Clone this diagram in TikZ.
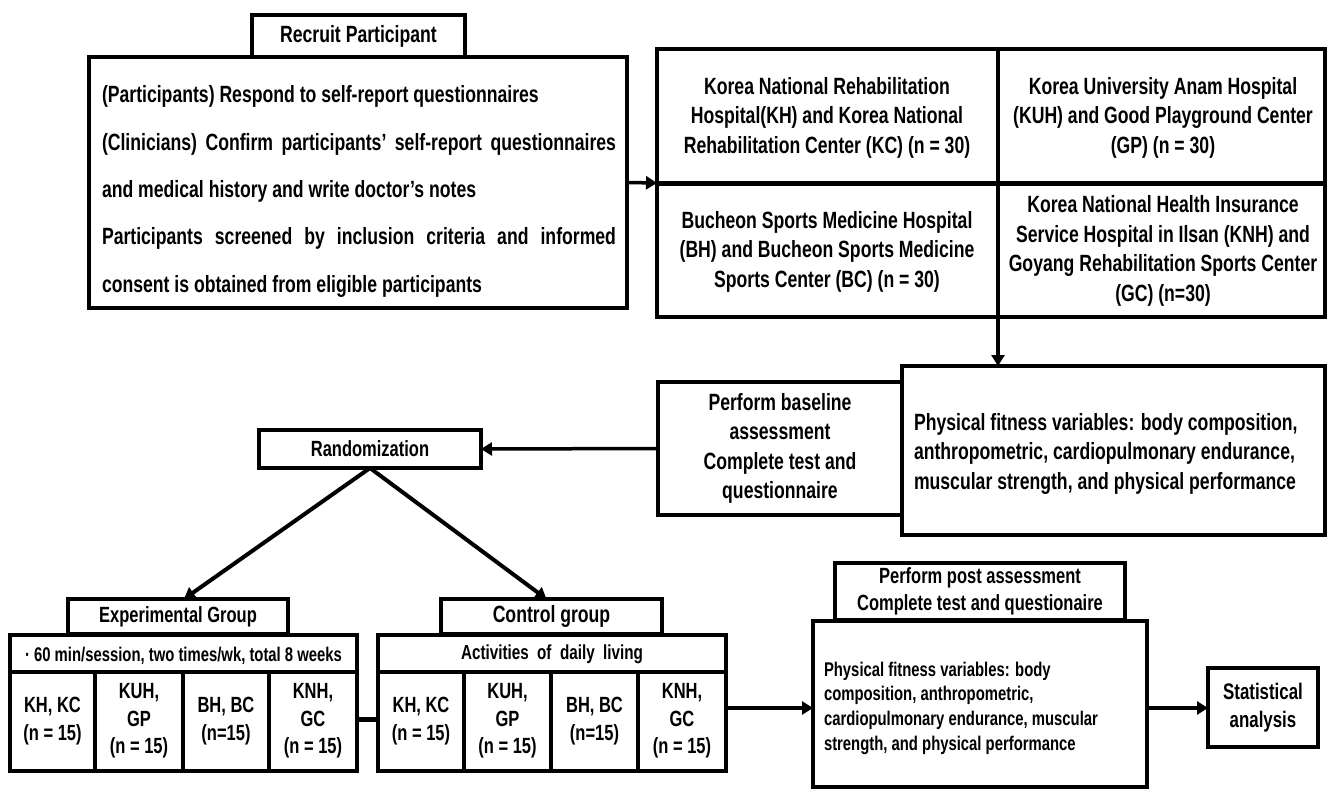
\documentclass[tikz,border=0pt]{standalone}
\usepackage{fontspec}
\setmainfont{Liberation Sans}[FakeStretch=0.75]
\usetikzlibrary{arrows.meta}
\newcommand{\myfs}[2]{\fontsize{#1}{#2}\selectfont}
\begin{document}
\begin{tikzpicture}[x=1pt,y=-1pt,
  box/.style={draw, line width=4pt, inner sep=0pt, outer sep=0pt},
  txt/.style={inner sep=0pt, outer sep=0pt, align=center},
  big/.style={font=\bfseries\myfs{23.5}{29.5}},
  mid/.style={font=\bfseries\myfs{22}{27.5}},
  sml/.style={font=\bfseries\myfs{19.8}{24.7}},
  arr/.style={line width=3.5pt, -{Triangle[length=11pt,width=13pt]}},
  divline/.style={line width=3.5pt},
  rowline/.style={line width=4pt}]
\useasboundingbox (0,0) rectangle (1328,790);

% ---------- Recruit ----------
\node[box, big, minimum width=213, minimum height=42] (rtitle) at (358.5,36) {Recruit Participant};
\node[box, minimum width=538, minimum height=251] (rec) at (358,182.5) {};
\node[txt, big, anchor=base west] (r1) at (102,102) {(Participants) Respond to self-report questionnaires};
\node[txt, big, anchor=base west] (r2) at (102,150) {\makebox[514pt][s]{(Clinicians) Confirm participants’ self-report questionnaires}};
\node[txt, big, anchor=base west] (r3) at (102,197) {and medical history and write doctor’s notes};
\node[txt, big, anchor=base west] (r4) at (102,244) {\makebox[514pt][s]{Participants screened by inclusion criteria and informed}};
\node[txt, big, anchor=base west] (r5) at (102,292) {consent is obtained from eligible participants};

% ---------- Sites grid ----------
\node[box, minimum width=668, minimum height=268] (grid) at (991,183) {};
\coordinate (divx) at (998,0);
\draw[divline] (grid.north -| divx) -- (grid.south -| divx);
\draw[line width=5pt] (grid.west) -- (grid.east);
\node[txt, big] (s1) at (827,117.5) {Korea National Rehabilitation\\Hospital(KH) and Korea National\\Rehabilitation Center (KC) (n = 30)};
\node[txt, big] (s2) at (1163,117.5) {Korea University Anam Hospital\\(KUH) and Good Playground Center\\(GP) (n = 30)};
\node[txt, big] (s3) at (827,251.5) {Bucheon Sports Medicine Hospital\\(BH) and Bucheon Sports Medicine\\Sports Center (BC) (n = 30)};
\node[txt, big] (s4) at (1163,251) {Korea National Health Insurance\\Service Hospital in Ilsan (KNH) and\\Goyang Rehabilitation Sports Center\\(GC) (n=30)};

% ---------- Baseline ----------
\node[box, minimum width=423, minimum height=169] (phys) at (1113.5,450.5) {};
\node[txt, big, anchor=west, align=left] (phyt) at (914,453.5) {Physical fitness variables: body composition,\\anthropometric, cardiopulmonary endurance,\\muscular strength, and physical performance};
\node[box, big, minimum width=244, minimum height=133, align=center] (base) at (780,448.5) {Perform baseline\\assessment\\Complete test and\\questionnaire};

% ---------- Randomization ----------
\node[box, mid, minimum width=222, minimum height=38] (rand) at (370,449) {Randomization};

% ---------- Experimental ----------
\node[box, mid, minimum width=220, minimum height=35] (expg) at (178,616.5) {Experimental Group};
\node[box, minimum width=347, minimum height=136] (expf) at (183.5,703) {};
\coordinate (rowy) at (0,672);
\draw[rowline] (expf.west |- rowy) -- (expf.east |- rowy);
\foreach \x in {95,183,269} \draw[divline] (\x,672) -- (expf.south -| \x,0);
\node[txt, sml] (e0) at (183.5,656) {· 60 min/session, two times/wk, total 8 weeks};
\node[txt, mid] (e1) at (52.5,721) {KH, KC\\(n = 15)};
\node[txt, mid] (e2) at (139,721) {KUH,\\GP\\(n = 15)};
\node[txt, mid] (e3) at (226,721) {BH, BC\\(n=15)};
\node[txt, mid] (e4) at (313,721) {KNH,\\GC\\(n = 15)};

% ---------- Control ----------
\node[box, big, minimum width=221, minimum height=35] (ctlg) at (551.5,616.5) {Control group};
\node[box, minimum width=348, minimum height=136] (ctlf) at (552,703) {};
\draw[rowline] (ctlf.west |- rowy) -- (ctlf.east |- rowy);
\foreach \x in {464,551,638} \draw[divline] (\x,672) -- (ctlf.south -| \x,0);
\node[txt, font=\bfseries\myfs{20.3}{24}] (c0) at (552,654) {Activities\ \ of\ \ daily\ \ living};
\node[txt, mid] (c1) at (421,721) {KH, KC\\(n = 15)};
\node[txt, mid] (c2) at (507.5,721) {KUH,\\GP\\(n = 15)};
\node[txt, mid] (c3) at (594.5,721) {BH, BC\\(n=15)};
\node[txt, mid] (c4) at (682,721) {KNH,\\GC\\(n = 15)};

% ---------- Post assessment ----------
\node[box, mid, minimum width=290, minimum height=57, align=center] (ptitle) at (980,591.5) {Perform post assessment\\Complete test and questionaire};
\node[box, minimum width=334, minimum height=166] (pstb) at (980,704) {};
\node[txt, sml, anchor=west, align=left] (pstt) at (824,708) {Physical fitness variables: body\\composition, anthropometric,\\cardiopulmonary endurance, muscular\\strength, and physical performance};
\node[box, font=\bfseries\myfs{22.5}{28}, minimum width=110, minimum height=79, align=center] (stat) at (1263,707.5) {Statistical\\analysis};

% ---------- Connectors ----------
\draw[arr] (rec.east) -- (grid.west);
\draw[arr] (grid.south -| divx) -- (phys.north -| divx);
\draw[arr] (base.west) -- (rand.east);
\draw[arr, line width=4pt] (rand.south) -- ([xshift=6pt]expg.north);
\draw[arr, line width=4pt] (rand.south) -- ([xshift=-5pt]ctlg.north);
\coordinate (lnk) at (0,719);
\draw[line width=5pt] (expf.east |- lnk) -- (ctlf.west |- lnk);
\coordinate (lvl) at (0,708);
\draw[arr, line width=4pt] (ctlf.east |- lvl) -- (pstb.west |- lvl);
\draw[arr, line width=4pt] (pstb.east |- lvl) -- (stat.west |- lvl);
\end{tikzpicture}
\end{document}
